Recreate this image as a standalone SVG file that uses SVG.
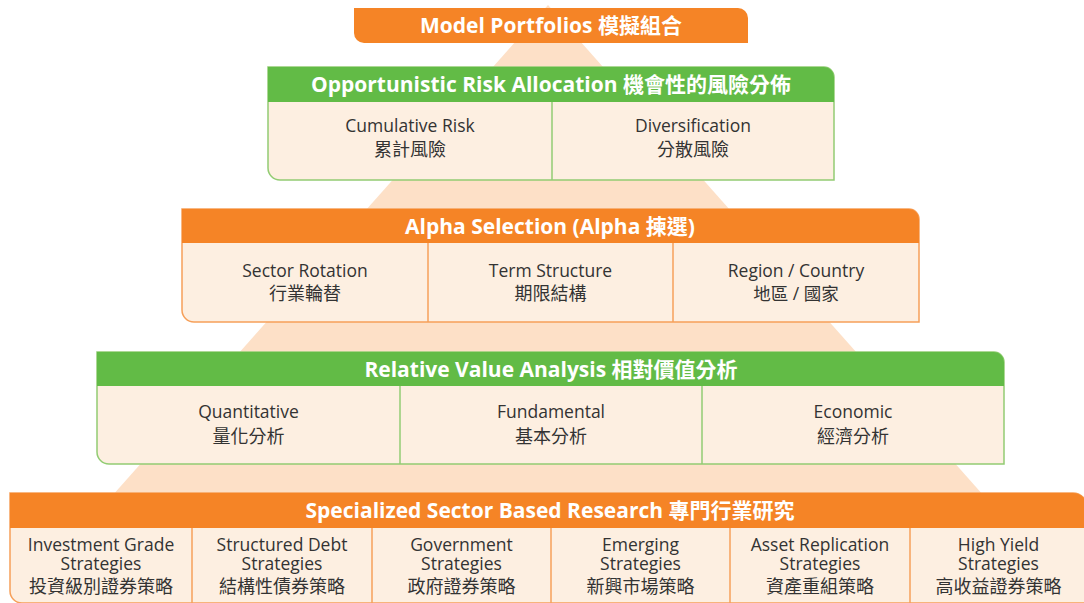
<svg xmlns="http://www.w3.org/2000/svg" width="1084" height="603" viewBox="0 0 1084 603">
<style>
.bg{fill:#ffffff}
.tri{fill:#FDE0C7}
.hdr-o{fill:#F58426}
.hdr-g{fill:#62BB46}
.body-o{fill:#FDEFE1;stroke:#F6A05A;stroke-width:1.5}
.body-g{fill:#FDEFE1;stroke:#92CC73;stroke-width:1.5}
.div-o{stroke:#F6A05A;stroke-width:1.5}
.div-g{stroke:#92CC73;stroke-width:1.5}
.title{font-family:"Open Sans","Noto Sans CJK TC",sans-serif;font-weight:700;font-size:21px;fill:#ffffff;text-anchor:middle}
.lab{font-family:"Open Sans","Noto Sans CJK TC",sans-serif;font-size:17.5px;fill:#333333;text-anchor:middle}
.cjk{font-family:"Noto Sans CJK TC",sans-serif;font-size:18px;fill:#333333}
</style>
<rect class="bg" x="0" y="0" width="1084" height="603"/>
<polygon class="tri" points="548,5 17,603 1079,603"/>

<g id="model-portfolios">
<path class="hdr-o" d="M354,8 H738 A10,10 0 0 1 748,18 V43 H364 A10,10 0 0 1 354,33 Z"/>
<text class="title" x="551" y="33">Model Portfolios 模擬組合</text>
</g>

<g id="opportunistic-risk-allocation">
<path class="body-g" d="M268,67 H824 A10,10 0 0 1 834,77 V180 H280 A12,12 0 0 1 268,168 Z"/>
<path class="hdr-g" d="M268,67 H824 A10,10 0 0 1 834,77 V102 H268 Z"/>
<line class="div-g" x1="552" y1="102" x2="552" y2="180"/>
<text class="title" x="551" y="92">Opportunistic Risk Allocation 機會性的風險分佈</text>
<text class="lab" x="410" y="132">Cumulative Risk<tspan class="cjk" x="410" y="156">累計風險</tspan></text>
<text class="lab" x="693" y="132">Diversification<tspan class="cjk" x="693" y="156">分散風險</tspan></text>
</g>

<g id="alpha-selection">
<path class="body-o" d="M182,209 H909 A10,10 0 0 1 919,219 V322 H194 A12,12 0 0 1 182,310 Z"/>
<path class="hdr-o" d="M182,209 H909 A10,10 0 0 1 919,219 V243 H182 Z"/>
<line class="div-o" x1="428" y1="243" x2="428" y2="322"/>
<line class="div-o" x1="673" y1="243" x2="673" y2="322"/>
<text class="title" x="550" y="234">Alpha Selection (Alpha 揀選)</text>
<text class="lab" x="305" y="277">Sector Rotation<tspan class="cjk" x="305" y="300">行業輪替</tspan></text>
<text class="lab" x="550.5" y="277">Term Structure<tspan class="cjk" x="550.5" y="300">期限結構</tspan></text>
<text class="lab" x="796" y="277">Region / Country<tspan x="796" y="300">地區 / 國家</tspan></text>
</g>

<g id="relative-value-analysis">
<path class="body-g" d="M97,352 H994 A10,10 0 0 1 1004,362 V464 H109 A12,12 0 0 1 97,452 Z"/>
<path class="hdr-g" d="M97,352 H994 A10,10 0 0 1 1004,362 V386 H97 Z"/>
<line class="div-g" x1="400" y1="386" x2="400" y2="464"/>
<line class="div-g" x1="702" y1="386" x2="702" y2="464"/>
<text class="title" x="551" y="377">Relative Value Analysis 相對價值分析</text>
<text class="lab" x="248.5" y="417.5">Quantitative<tspan class="cjk" x="248.5" y="443">量化分析</tspan></text>
<text class="lab" x="551" y="417.5">Fundamental<tspan class="cjk" x="551" y="443">基本分析</tspan></text>
<text class="lab" x="853" y="417.5">Economic<tspan class="cjk" x="853" y="443">經濟分析</tspan></text>
</g>

<g id="specialized-sector-research">
<path class="body-o" d="M10,493 H1073 A14,14 0 0 1 1087,507 V603 H22 A12,12 0 0 1 10,591 Z"/>
<path class="hdr-o" d="M10,493 H1073 A14,14 0 0 1 1087,507 V528 H10 Z"/>
<line class="div-o" x1="192" y1="528" x2="192" y2="603"/>
<line class="div-o" x1="372" y1="528" x2="372" y2="603"/>
<line class="div-o" x1="551" y1="528" x2="551" y2="603"/>
<line class="div-o" x1="730" y1="528" x2="730" y2="603"/>
<line class="div-o" x1="910" y1="528" x2="910" y2="603"/>
<text class="title" x="550" y="518">Specialized Sector Based Research 專門行業研究</text>
<text class="lab" x="101" y="551">Investment Grade<tspan x="101" y="570">Strategies</tspan><tspan class="cjk" x="101" y="593">投資級別證券策略</tspan></text>
<text class="lab" x="282" y="551">Structured Debt<tspan x="282" y="570">Strategies</tspan><tspan class="cjk" x="282" y="593">結構性債券策略</tspan></text>
<text class="lab" x="461.5" y="551">Government<tspan x="461.5" y="570">Strategies</tspan><tspan class="cjk" x="461.5" y="593">政府證券策略</tspan></text>
<text class="lab" x="640.5" y="551">Emerging<tspan x="640.5" y="570">Strategies</tspan><tspan class="cjk" x="640.5" y="593">新興市場策略</tspan></text>
<text class="lab" x="820" y="551">Asset Replication<tspan x="820" y="570">Strategies</tspan><tspan class="cjk" x="820" y="593">資產重組策略</tspan></text>
<text class="lab" x="998.5" y="551">High Yield<tspan x="998.5" y="570">Strategies</tspan><tspan class="cjk" x="998.5" y="593">高收益證券策略</tspan></text>
</g>
<g id="connectors"/>
</svg>
